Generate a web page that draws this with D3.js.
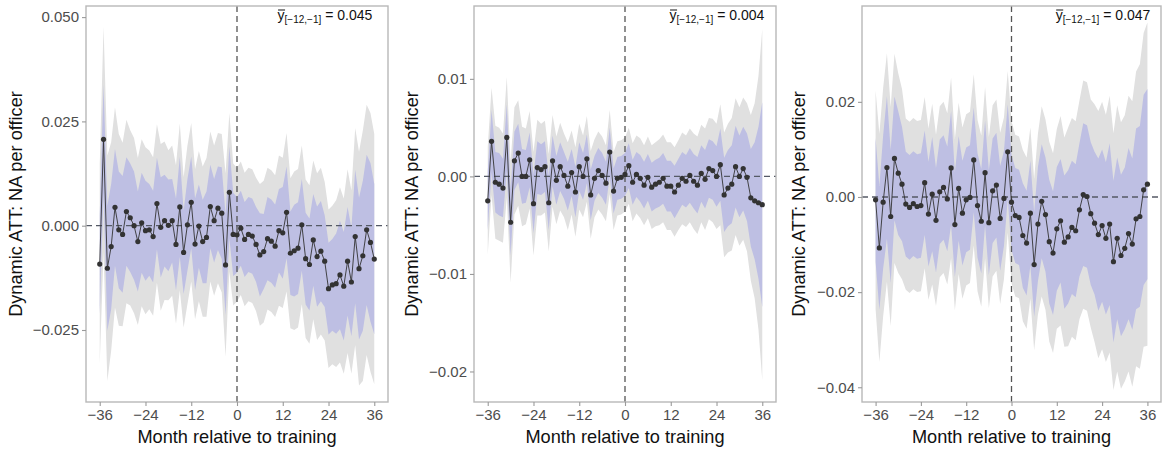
<!DOCTYPE html>
<html>
<head>
<meta charset="utf-8">
<script src="https://cdn.jsdelivr.net/npm/d3@7"></script>
<style>
  body { margin: 0; background: #fff; }
  text { font-family: "Liberation Sans", Arial, Helvetica, sans-serif; }
</style>
</head>
<body>
<div id="chart"></div>
<script>
// months relative to training
const months = d3.range(-36, 37);
const xTicks = [-36, -24, -12, 0, 12, 24, 36];

// panel 1
const est1 = [-0.0092, 0.0207, -0.0102, -0.0050, 0.0044, -0.0010,
    -0.0021, 0.0034, 0.0019, 0.0000, -0.0038, 0.0007,
    -0.0012, -0.0010, -0.0026, 0.0053, -0.0004, 0.0012,
    0.0001, 0.0012, -0.0045, 0.0045, -0.0064, 0.0002,
    0.0056, -0.0044, -0.0001, -0.0038, -0.0028, 0.0046,
    0.0012, 0.0042, 0.0030, -0.0094, 0.0080, -0.0021,
    -0.0022, -0.0006, -0.0033, -0.0021, -0.0025, -0.0045,
    -0.0070, -0.0062, -0.0031, -0.0037, -0.0049, -0.0012,
    -0.0017, 0.0032, -0.0066, -0.0060, -0.0054, 0.0002,
    -0.0079, -0.0093, -0.0034, -0.0074, -0.0061, -0.0085,
    -0.0151, -0.0142, -0.0139, -0.0118, -0.0145, -0.0085,
    -0.0135, -0.0026, -0.0103, -0.0072, -0.0010, -0.0040,
    -0.0080];
const inner1 = [0.012, 0.013, 0.015, 0.015, 0.014, 0.014,
    0.014, 0.013, 0.013, 0.013, 0.012, 0.012,
    0.012, 0.011, 0.011, 0.011, 0.012, 0.011,
    0.011, 0.010, 0.011, 0.012, 0.010, 0.011,
    0.011, 0.011, 0.010, 0.010, 0.011, 0.010,
    0.010, 0.010, 0.011, 0.012, 0.011, 0.010,
    0.009, 0.009, 0.009, 0.009, 0.009, 0.009,
    0.010, 0.009, 0.010, 0.010, 0.010, 0.010,
    0.011, 0.011, 0.010, 0.011, 0.011, 0.011,
    0.011, 0.011, 0.011, 0.012, 0.012, 0.011,
    0.011, 0.011, 0.012, 0.013, 0.013, 0.013,
    0.013, 0.016, 0.017, 0.018, 0.018, 0.019,
    0.018];
const outer1 = [0.024, 0.027, 0.027, 0.025, 0.024, 0.023,
    0.022, 0.022, 0.021, 0.021, 0.020, 0.020,
    0.020, 0.019, 0.019, 0.019, 0.020, 0.019,
    0.018, 0.018, 0.019, 0.020, 0.018, 0.019,
    0.019, 0.018, 0.018, 0.018, 0.019, 0.018,
    0.018, 0.018, 0.019, 0.022, 0.019, 0.017,
    0.016, 0.016, 0.016, 0.016, 0.016, 0.016,
    0.017, 0.017, 0.017, 0.017, 0.017, 0.018,
    0.018, 0.019, 0.018, 0.019, 0.019, 0.019,
    0.019, 0.019, 0.019, 0.020, 0.020, 0.019,
    0.019, 0.019, 0.020, 0.021, 0.021, 0.022,
    0.022, 0.026, 0.028, 0.030, 0.030, 0.031,
    0.030];

// panel 2
const est2 = [-0.0025, 0.0036, -0.0006, -0.0008, -0.0012, 0.0040,
    -0.0047, 0.0016, 0.0024, 0.0000, 0.0000, 0.0017,
    -0.0028, 0.0009, 0.0007, 0.0010, -0.0027, 0.0016,
    -0.0004, 0.0010, 0.0001, -0.0010, 0.0004, -0.0016,
    0.0010, 0.0000, 0.0018, -0.0019, -0.0002, 0.0006,
    0.0001, -0.0007, 0.0025, -0.0015, -0.0002, -0.0001,
    0.0002, 0.0011, -0.0006, 0.0002, -0.0002, -0.0009,
    -0.0001, -0.0011, -0.0008, -0.0006, -0.0002, -0.0010,
    -0.0010, -0.0016, -0.0009, -0.0002, -0.0005, 0.0001,
    -0.0005, -0.0009, 0.0003, -0.0003, 0.0008, 0.0006,
    0.0000, 0.0012, -0.0019, -0.0012, -0.0008, 0.0010,
    0.0000, 0.0008, -0.0001, -0.0022, -0.0025, -0.0027,
    -0.0029];
const inner2 = [0.0030, 0.0032, 0.0031, 0.0032, 0.0030, 0.0034,
    0.0034, 0.0030, 0.0030, 0.0028, 0.0027, 0.0028,
    0.0030, 0.0027, 0.0026, 0.0026, 0.0028, 0.0026,
    0.0025, 0.0025, 0.0024, 0.0025, 0.0024, 0.0026,
    0.0025, 0.0024, 0.0025, 0.0026, 0.0023, 0.0023,
    0.0023, 0.0022, 0.0025, 0.0023, 0.0022, 0.0022,
    0.0022, 0.0023, 0.0023, 0.0023, 0.0024, 0.0024,
    0.0024, 0.0025, 0.0025, 0.0025, 0.0026, 0.0026,
    0.0026, 0.0027, 0.0027, 0.0027, 0.0027, 0.0028,
    0.0028, 0.0029, 0.0029, 0.0030, 0.0030, 0.0030,
    0.0031, 0.0037, 0.0038, 0.0039, 0.0040, 0.0042,
    0.0042, 0.0043, 0.0045, 0.0050, 0.0060, 0.0078,
    0.0105];
const outer2 = [0.0055, 0.0055, 0.0058, 0.0058, 0.0056, 0.0062,
    0.0062, 0.0055, 0.0054, 0.0051, 0.0049, 0.0050,
    0.0053, 0.0049, 0.0047, 0.0047, 0.0050, 0.0047,
    0.0045, 0.0045, 0.0043, 0.0045, 0.0043, 0.0046,
    0.0044, 0.0042, 0.0044, 0.0045, 0.0040, 0.0040,
    0.0040, 0.0039, 0.0043, 0.0040, 0.0038, 0.0038,
    0.0038, 0.0039, 0.0040, 0.0040, 0.0041, 0.0041,
    0.0042, 0.0043, 0.0043, 0.0044, 0.0045, 0.0045,
    0.0045, 0.0046, 0.0046, 0.0047, 0.0047, 0.0048,
    0.0049, 0.0050, 0.0050, 0.0052, 0.0052, 0.0053,
    0.0054, 0.0062, 0.0064, 0.0066, 0.0068, 0.0070,
    0.0071, 0.0073, 0.0076, 0.0085, 0.0100, 0.0130,
    0.0180];

// panel 3
const est3 = [-0.0006, -0.0107, -0.0011, 0.0062, -0.0041, 0.0081,
    0.0050, 0.0027, -0.0015, -0.0022, -0.0014, -0.0020,
    -0.0018, 0.0030, -0.0036, 0.0006, -0.0049, 0.0011,
    0.0020, -0.0004, 0.0061, -0.0058, 0.0018, -0.0034,
    -0.0006, -0.0001, 0.0078, -0.0018, -0.0051, 0.0051,
    -0.0054, 0.0013, 0.0025, -0.0045, -0.0003, 0.0095,
    -0.0011, -0.0039, -0.0043, -0.0081, -0.0097, -0.0034,
    -0.0142, -0.0057, -0.0009, -0.0037, -0.0094, -0.0118,
    -0.0067, -0.0050, -0.0095, -0.0084, -0.0064, -0.0071,
    -0.0027, 0.0005, 0.0001, -0.0035, -0.0055, -0.0079,
    -0.0060, -0.0087, -0.0057, -0.0136, -0.0087, -0.0123,
    -0.0108, -0.0077, -0.0099, -0.0046, -0.0041, 0.0015,
    0.0027];
const inner3 = [0.013, 0.013, 0.014, 0.015, 0.014, 0.013,
    0.013, 0.012, 0.011, 0.011, 0.011, 0.011,
    0.011, 0.011, 0.011, 0.012, 0.011, 0.011,
    0.011, 0.011, 0.012, 0.011, 0.011, 0.011,
    0.011, 0.011, 0.011, 0.011, 0.011, 0.011,
    0.011, 0.011, 0.011, 0.011, 0.010, 0.010,
    0.010, 0.010, 0.010, 0.011, 0.011, 0.011,
    0.011, 0.012, 0.012, 0.012, 0.013, 0.013,
    0.013, 0.013, 0.014, 0.014, 0.014, 0.014,
    0.014, 0.015, 0.015, 0.015, 0.015, 0.016,
    0.016, 0.016, 0.017, 0.017, 0.017, 0.017,
    0.017, 0.018, 0.018, 0.019, 0.019, 0.020,
    0.020];
const outer3 = [0.023, 0.024, 0.024, 0.024, 0.023, 0.022,
    0.021, 0.020, 0.018, 0.018, 0.018, 0.018,
    0.018, 0.018, 0.018, 0.019, 0.018, 0.018,
    0.018, 0.018, 0.019, 0.018, 0.018, 0.018,
    0.018, 0.018, 0.018, 0.018, 0.018, 0.018,
    0.018, 0.018, 0.018, 0.018, 0.017, 0.017,
    0.017, 0.017, 0.017, 0.018, 0.018, 0.018,
    0.018, 0.019, 0.020, 0.020, 0.021, 0.021,
    0.021, 0.022, 0.022, 0.023, 0.023, 0.023,
    0.023, 0.024, 0.024, 0.024, 0.025, 0.026,
    0.026, 0.026, 0.027, 0.027, 0.028, 0.028,
    0.028, 0.029, 0.030, 0.031, 0.032, 0.033,
    0.034];

const preMeans = ["0.045", "0.004", "0.047"];

const WIDTH = 1163;
const HEIGHT = 454;

const svg = d3.select("#chart").append("svg")
    .attr("width", WIDTH)
    .attr("height", HEIGHT);

const panels = [
    { est: est1, inner: inner1, outer: outer1, mean: preMeans[0],
      left: 86, right: 388, yDomain: [-0.04226, 0.05266],
      yTicks: [-0.025, 0, 0.025, 0.05], fmt: ".3f", titleX: 22, noteDx: -2 },
    { est: est2, inner: inner2, outer: outer2, mean: preMeans[1],
      left: 474, right: 776, yDomain: [-0.02313, 0.01747],
      yTicks: [-0.02, -0.01, 0, 0.01], fmt: ".2f", titleX: 418, noteDx: 2 },
    { est: est3, inner: inner3, outer: outer3, mean: preMeans[2],
      left: 862, right: 1161, yDomain: [-0.0431, 0.04015],
      yTicks: [-0.04, -0.02, 0, 0.02], fmt: ".2f", titleX: 805, noteDx: 3 }
];

const TOP = 6, BOTTOM = 402;

panels.forEach((p, k) => {
    const x = d3.scaleLinear().domain([-39.6, 39.6]).range([p.left, p.right]);
    const y = d3.scaleLinear().domain(p.yDomain).range([BOTTOM, TOP]);

    const rows = months.map((m, i) => ({ m: m, v: p.est[i], a: p.inner[i], b: p.outer[i] }));

    const g = svg.append("g").attr("class", "panel");

    g.append("clipPath").attr("id", "clip" + k)
        .append("rect")
        .attr("x", p.left).attr("y", TOP)
        .attr("width", p.right - p.left).attr("height", BOTTOM - TOP);

    const plot = g.append("g").attr("clip-path", "url(#clip" + k + ")");

    // outer band
    plot.append("path")
        .datum(rows)
        .attr("fill", "#e0e0e0")
        .attr("d", d3.area()
            .x(d => x(d.m))
            .y0(d => y(d.v - d.b))
            .y1(d => y(d.v + d.b)));

    // inner band
    plot.append("path")
        .datum(rows)
        .attr("fill", "#bebfe3")
        .attr("d", d3.area()
            .x(d => x(d.m))
            .y0(d => y(d.v - d.a))
            .y1(d => y(d.v + d.a)));

    // reference lines
    plot.append("line")
        .attr("x1", p.left).attr("x2", p.right)
        .attr("y1", y(0)).attr("y2", y(0))
        .attr("stroke", "#555a66").attr("stroke-width", 1.3)
        .attr("stroke-dasharray", "6,4");
    plot.append("line")
        .attr("x1", x(0)).attr("x2", x(0))
        .attr("y1", TOP).attr("y2", BOTTOM)
        .attr("stroke", "#555").attr("stroke-width", 1.3)
        .attr("stroke-dasharray", "6,4");

    plot.append("path")
        .datum(rows)
        .attr("fill", "none")
        .attr("stroke", "#333")
        .attr("stroke-width", 0.9)
        .attr("d", d3.line().x(d => x(d.m)).y(d => y(d.v)));

    plot.selectAll("circle")
        .data(rows)
        .enter().append("circle")
        .attr("cx", d => x(d.m))
        .attr("cy", d => y(d.v))
        .attr("r", 2.6)
        .attr("fill", "#333");

    // panel border
    g.append("rect")
        .attr("x", p.left).attr("y", TOP)
        .attr("width", p.right - p.left).attr("height", BOTTOM - TOP)
        .attr("fill", "none")
        .attr("stroke", "#b8b8b8")
        .attr("stroke-width", 1.4);

    // axes
    const yAxis = g.append("g")
        .attr("transform", "translate(" + p.left + ",0)")
        .call(d3.axisLeft(y).tickValues(p.yTicks).tickFormat(d3.format(p.fmt))
            .tickSize(4).tickPadding(3));
    const xAxis = g.append("g")
        .attr("transform", "translate(0," + BOTTOM + ")")
        .call(d3.axisBottom(x).tickValues(xTicks).tickFormat(d3.format("d"))
            .tickSize(4).tickPadding(3));

    [yAxis, xAxis].forEach(a => {
        a.select(".domain").remove();
        a.selectAll(".tick line").attr("stroke", "#9a9a9a").attr("stroke-width", 1.1);
        a.selectAll(".tick text")
            .attr("fill", "#4d4d4d")
            .style("font-size", "15px")
            .style("font-family", "'Liberation Sans', Arial, sans-serif");
    });

    // axis titles
    g.append("text")
        .attr("transform", "translate(" + p.titleX + "," + ((TOP + BOTTOM) / 2) + ") rotate(-90)")
        .attr("text-anchor", "middle")
        .style("font-size", "18.2px")
        .attr("fill", "#111")
        .text("Dynamic ATT: NA per officer");

    g.append("text")
        .attr("x", (p.left + p.right) / 2)
        .attr("y", 443)
        .attr("text-anchor", "middle")
        .style("font-size", "18.2px")
        .attr("fill", "#111")
        .text("Month relative to training");

    // pre-period mean annotation
    const note = g.append("text")
        .attr("x", x(36) + p.noteDx)
        .attr("y", 19.5)
        .attr("text-anchor", "end")
        .style("font-size", "14px")
        .attr("fill", "#111");
    note.append("tspan").text("y");
    note.append("tspan").attr("dy", 3).style("font-size", "10px").text("[\u221212,\u22121]");
    note.append("tspan").attr("dy", -3).text(" = " + p.mean);

    // bar over the y
    const box = note.node().getExtentOfChar(0);
    g.append("line")
        .attr("x1", box.x + 0.5).attr("x2", box.x + box.width + 0.5)
        .attr("y1", box.y + 3.5).attr("y2", box.y + 3.5)
        .attr("stroke", "#111").attr("stroke-width", 1);
});
</script>
</body>
</html>
